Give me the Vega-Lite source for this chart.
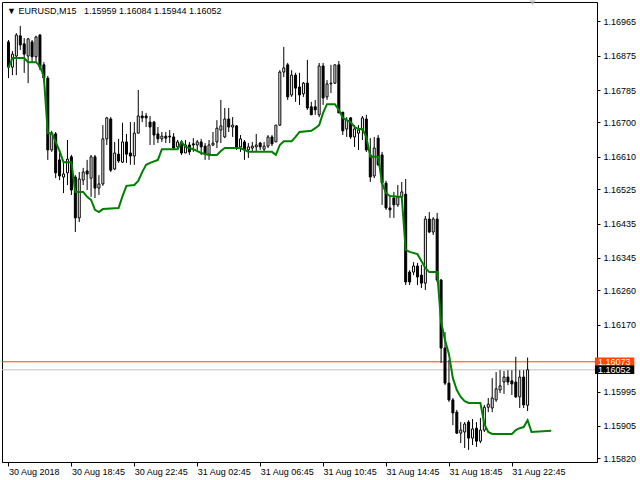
{
  "$schema": "https://vega.github.io/schema/vega-lite/v6.json",
  "width": 595,
  "height": 460,
  "autosize": {"type": "none"},
  "padding": {"left": 2, "top": 2, "right": 43, "bottom": 18},
  "background": "white",
  "title": {
    "text": "▼ EURUSD,M15\u00a0\u00a0 1.15959 1.16084 1.15944 1.16052",
    "anchor": "start",
    "frame": "group",
    "orient": "top",
    "offset": -9,
    "baseline": "middle",
    "dx": 5,
    "dy": 11,
    "fontSize": 9,
    "font": "Liberation Sans",
    "fontWeight": "normal",
    "color": "black"
  },
  "config": {
    "view": {"stroke": "black", "strokeWidth": 1},
    "font": "Liberation Sans",
    "axis": {
      "labelFont": "Liberation Sans",
      "labelFontSize": 9,
      "labelColor": "black",
      "tickColor": "black",
      "domainColor": "black",
      "grid": false,
      "title": null,
      "labelFlush": false,
      "labelOverlap": false
    }
  },
  "datasets": {
    "levels": [
      {"kind": "ask", "price": 1.16073},
      {"kind": "bid", "price": 1.16052}
    ],
    "candles": [
      {"i":0,"o":1.16911,"h":1.16916,"l":1.16816,"c":1.16845},
      {"i":1,"o":1.16845,"h":1.16887,"l":1.16824,"c":1.16879},
      {"i":2,"o":1.16874,"h":1.16934,"l":1.16824,"c":1.16929},
      {"i":3,"o":1.16927,"h":1.16953,"l":1.16890,"c":1.16903},
      {"i":4,"o":1.16906,"h":1.16921,"l":1.16830,"c":1.16879},
      {"i":5,"o":1.16874,"h":1.16921,"l":1.16803,"c":1.16919},
      {"i":6,"o":1.16911,"h":1.16916,"l":1.16858,"c":1.16872},
      {"i":7,"o":1.16872,"h":1.16927,"l":1.16858,"c":1.16924},
      {"i":8,"o":1.16929,"h":1.16932,"l":1.16837,"c":1.16845},
      {"i":9,"o":1.16851,"h":1.16858,"l":1.16806,"c":1.16816},
      {"i":10,"o":1.16816,"h":1.16822,"l":1.16602,"c":1.16628},
      {"i":11,"o":1.16628,"h":1.16678,"l":1.16623,"c":1.16672},
      {"i":12,"o":1.16670,"h":1.16675,"l":1.16554,"c":1.16568},
      {"i":13,"o":1.16602,"h":1.16623,"l":1.16549,"c":1.16560},
      {"i":14,"o":1.16557,"h":1.16594,"l":1.16515,"c":1.16565},
      {"i":15,"o":1.16568,"h":1.16654,"l":1.16536,"c":1.16604},
      {"i":16,"o":1.16610,"h":1.16615,"l":1.16510,"c":1.16523},
      {"i":17,"o":1.16557,"h":1.16562,"l":1.16413,"c":1.16450},
      {"i":18,"o":1.16450,"h":1.16570,"l":1.16439,"c":1.16552},
      {"i":19,"o":1.16549,"h":1.16581,"l":1.16536,"c":1.16570},
      {"i":20,"o":1.16573,"h":1.16602,"l":1.16523,"c":1.16565},
      {"i":21,"o":1.16554,"h":1.16615,"l":1.16505,"c":1.16610},
      {"i":22,"o":1.16610,"h":1.16615,"l":1.16502,"c":1.16528},
      {"i":23,"o":1.16528,"h":1.16562,"l":1.16510,"c":1.16539},
      {"i":24,"o":1.16539,"h":1.16693,"l":1.16534,"c":1.16657},
      {"i":25,"o":1.16657,"h":1.16714,"l":1.16641,"c":1.16712},
      {"i":26,"o":1.16709,"h":1.16714,"l":1.16570,"c":1.16575},
      {"i":27,"o":1.16578,"h":1.16649,"l":1.16575,"c":1.16620},
      {"i":28,"o":1.16617,"h":1.16657,"l":1.16594,"c":1.16599},
      {"i":29,"o":1.16596,"h":1.16699,"l":1.16594,"c":1.16649},
      {"i":30,"o":1.16649,"h":1.16670,"l":1.16594,"c":1.16617},
      {"i":31,"o":1.16620,"h":1.16701,"l":1.16589,"c":1.16612},
      {"i":32,"o":1.16612,"h":1.16701,"l":1.16589,"c":1.16672},
      {"i":33,"o":1.16672,"h":1.16785,"l":1.16672,"c":1.16717},
      {"i":34,"o":1.16717,"h":1.16730,"l":1.16701,"c":1.16712},
      {"i":35,"o":1.16717,"h":1.16725,"l":1.16688,"c":1.16712},
      {"i":36,"o":1.16701,"h":1.16717,"l":1.16641,"c":1.16688},
      {"i":37,"o":1.16701,"h":1.16704,"l":1.16641,"c":1.16667},
      {"i":38,"o":1.16670,"h":1.16688,"l":1.16646,"c":1.16657},
      {"i":39,"o":1.16657,"h":1.16675,"l":1.16649,"c":1.16664},
      {"i":40,"o":1.16664,"h":1.16675,"l":1.16646,"c":1.16659},
      {"i":41,"o":1.16664,"h":1.16680,"l":1.16646,"c":1.16662},
      {"i":42,"o":1.16662,"h":1.16672,"l":1.16628,"c":1.16633},
      {"i":43,"o":1.16636,"h":1.16654,"l":1.16628,"c":1.16649},
      {"i":44,"o":1.16649,"h":1.16654,"l":1.16615,"c":1.16620},
      {"i":45,"o":1.16620,"h":1.16654,"l":1.16620,"c":1.16641},
      {"i":46,"o":1.16641,"h":1.16649,"l":1.16615,"c":1.16623},
      {"i":47,"o":1.16644,"h":1.16659,"l":1.16623,"c":1.16641},
      {"i":48,"o":1.16641,"h":1.16654,"l":1.16628,"c":1.16649},
      {"i":49,"o":1.16649,"h":1.16657,"l":1.16615,"c":1.16636},
      {"i":50,"o":1.16638,"h":1.16646,"l":1.16602,"c":1.16617},
      {"i":51,"o":1.16617,"h":1.16654,"l":1.16602,"c":1.16641},
      {"i":52,"o":1.16641,"h":1.16675,"l":1.16638,"c":1.16646},
      {"i":53,"o":1.16649,"h":1.16706,"l":1.16633,"c":1.16685},
      {"i":54,"o":1.16680,"h":1.16759,"l":1.16646,"c":1.16691},
      {"i":55,"o":1.16662,"h":1.16738,"l":1.16659,"c":1.16709},
      {"i":56,"o":1.16709,"h":1.16738,"l":1.16675,"c":1.16688},
      {"i":57,"o":1.16688,"h":1.16714,"l":1.16662,"c":1.16693},
      {"i":58,"o":1.16691,"h":1.16693,"l":1.16628,"c":1.16633},
      {"i":59,"o":1.16636,"h":1.16667,"l":1.16623,"c":1.16657},
      {"i":60,"o":1.16649,"h":1.16654,"l":1.16602,"c":1.16628},
      {"i":61,"o":1.16628,"h":1.16646,"l":1.16607,"c":1.16636},
      {"i":62,"o":1.16633,"h":1.16649,"l":1.16623,"c":1.16638},
      {"i":63,"o":1.16636,"h":1.16670,"l":1.16623,"c":1.16641},
      {"i":64,"o":1.16646,"h":1.16649,"l":1.16628,"c":1.16636},
      {"i":65,"o":1.16630,"h":1.16649,"l":1.16623,"c":1.16638},
      {"i":66,"o":1.16638,"h":1.16667,"l":1.16633,"c":1.16662},
      {"i":67,"o":1.16662,"h":1.16667,"l":1.16638,"c":1.16644},
      {"i":68,"o":1.16649,"h":1.16693,"l":1.16649,"c":1.16693},
      {"i":69,"o":1.16693,"h":1.16837,"l":1.16691,"c":1.16832},
      {"i":70,"o":1.16832,"h":1.16898,"l":1.16819,"c":1.16843},
      {"i":71,"o":1.16851,"h":1.16856,"l":1.16759,"c":1.16767},
      {"i":72,"o":1.16772,"h":1.16837,"l":1.16767,"c":1.16824},
      {"i":73,"o":1.16824,"h":1.16830,"l":1.16754,"c":1.16790},
      {"i":74,"o":1.16793,"h":1.16830,"l":1.16746,"c":1.16772},
      {"i":75,"o":1.16775,"h":1.16806,"l":1.16767,"c":1.16803},
      {"i":76,"o":1.16803,"h":1.16864,"l":1.16733,"c":1.16738},
      {"i":77,"o":1.16741,"h":1.16754,"l":1.16720,"c":1.16720},
      {"i":78,"o":1.16741,"h":1.16759,"l":1.16720,"c":1.16733},
      {"i":79,"o":1.16720,"h":1.16856,"l":1.16714,"c":1.16848},
      {"i":80,"o":1.16848,"h":1.16856,"l":1.16746,"c":1.16764},
      {"i":81,"o":1.16767,"h":1.16811,"l":1.16759,"c":1.16801},
      {"i":82,"o":1.16801,"h":1.16851,"l":1.16777,"c":1.16803},
      {"i":83,"o":1.16803,"h":1.16851,"l":1.16801,"c":1.16851},
      {"i":84,"o":1.16851,"h":1.16861,"l":1.16725,"c":1.16725},
      {"i":85,"o":1.16727,"h":1.16727,"l":1.16667,"c":1.16678},
      {"i":86,"o":1.16683,"h":1.16714,"l":1.16662,"c":1.16706},
      {"i":87,"o":1.16712,"h":1.16714,"l":1.16657,"c":1.16662},
      {"i":88,"o":1.16662,"h":1.16693,"l":1.16636,"c":1.16683},
      {"i":89,"o":1.16672,"h":1.16693,"l":1.16628,"c":1.16680},
      {"i":90,"o":1.16680,"h":1.16717,"l":1.16654,"c":1.16712},
      {"i":91,"o":1.16709,"h":1.16720,"l":1.16623,"c":1.16628},
      {"i":92,"o":1.16615,"h":1.16659,"l":1.16544,"c":1.16557},
      {"i":93,"o":1.16560,"h":1.16662,"l":1.16554,"c":1.16633},
      {"i":94,"o":1.16659,"h":1.16667,"l":1.16586,"c":1.16589},
      {"i":95,"o":1.16615,"h":1.16623,"l":1.16484,"c":1.16541},
      {"i":96,"o":1.16541,"h":1.16547,"l":1.16471,"c":1.16476},
      {"i":97,"o":1.16476,"h":1.16510,"l":1.16450,"c":1.16471},
      {"i":98,"o":1.16502,"h":1.16518,"l":1.16450,"c":1.16484},
      {"i":99,"o":1.16484,"h":1.16536,"l":1.16479,"c":1.16505},
      {"i":100,"o":1.16505,"h":1.16544,"l":1.16499,"c":1.16518},
      {"i":101,"o":1.16512,"h":1.16552,"l":1.16274,"c":1.16282},
      {"i":102,"o":1.16308,"h":1.16313,"l":1.16274,"c":1.16282},
      {"i":103,"o":1.16308,"h":1.16334,"l":1.16300,"c":1.16324},
      {"i":104,"o":1.16324,"h":1.16332,"l":1.16274,"c":1.16295},
      {"i":105,"o":1.16300,"h":1.16327,"l":1.16266,"c":1.16279},
      {"i":106,"o":1.16279,"h":1.16455,"l":1.16261,"c":1.16447},
      {"i":107,"o":1.16447,"h":1.16465,"l":1.16410,"c":1.16413},
      {"i":108,"o":1.16413,"h":1.16452,"l":1.16405,"c":1.16447},
      {"i":109,"o":1.16447,"h":1.16463,"l":1.16282,"c":1.16287},
      {"i":110,"o":1.16287,"h":1.16290,"l":1.16070,"c":1.16109},
      {"i":111,"o":1.16109,"h":1.16151,"l":1.16012,"c":1.16017},
      {"i":112,"o":1.16017,"h":1.16078,"l":1.15968,"c":1.15973},
      {"i":113,"o":1.15973,"h":1.15978,"l":1.15907,"c":1.15939},
      {"i":114,"o":1.15941,"h":1.15947,"l":1.15884,"c":1.15886},
      {"i":115,"o":1.15886,"h":1.15915,"l":1.15860,"c":1.15894},
      {"i":116,"o":1.15889,"h":1.15915,"l":1.15847,"c":1.15910},
      {"i":117,"o":1.15915,"h":1.15920,"l":1.15842,"c":1.15873},
      {"i":118,"o":1.15873,"h":1.15923,"l":1.15855,"c":1.15897},
      {"i":119,"o":1.15899,"h":1.15915,"l":1.15850,"c":1.15865},
      {"i":120,"o":1.15865,"h":1.15926,"l":1.15860,"c":1.15894},
      {"i":121,"o":1.15894,"h":1.15960,"l":1.15889,"c":1.15954},
      {"i":122,"o":1.15954,"h":1.15978,"l":1.15941,"c":1.15962},
      {"i":123,"o":1.15952,"h":1.16030,"l":1.15941,"c":1.15978},
      {"i":124,"o":1.15973,"h":1.16046,"l":1.15968,"c":1.16002},
      {"i":125,"o":1.15999,"h":1.16051,"l":1.15991,"c":1.16010},
      {"i":126,"o":1.16020,"h":1.16049,"l":1.15989,"c":1.16033},
      {"i":127,"o":1.16033,"h":1.16051,"l":1.16012,"c":1.16020},
      {"i":128,"o":1.16023,"h":1.16051,"l":1.15986,"c":1.16015},
      {"i":129,"o":1.16020,"h":1.16086,"l":1.15978,"c":1.15981},
      {"i":130,"o":1.15981,"h":1.16051,"l":1.15952,"c":1.16033},
      {"i":131,"o":1.16033,"h":1.16051,"l":1.15952,"c":1.15960},
      {"i":132,"o":1.15959,"h":1.16084,"l":1.15944,"c":1.16052}
    ],
    "ma": [
      {"i":0,"v":1.16843},{"i":1,"v":1.16869},{"i":4,"v":1.16869},{"i":5,"v":1.16858},
      {"i":7,"v":1.16858},{"i":8,"v":1.16848},{"i":9,"v":1.16819},{"i":10,"v":1.16672},
      {"i":11,"v":1.16672},{"i":12,"v":1.16649},{"i":13,"v":1.16625},{"i":14,"v":1.16596},
      {"i":16,"v":1.16596},{"i":17,"v":1.16518},{"i":19,"v":1.16518},{"i":20,"v":1.16505},
      {"i":21,"v":1.16497},{"i":22,"v":1.16471},{"i":23,"v":1.16465},{"i":24,"v":1.16473},
      {"i":28,"v":1.16476},{"i":29,"v":1.16507},{"i":30,"v":1.16534},{"i":32,"v":1.16536},
      {"i":33,"v":1.16547},{"i":34,"v":1.16570},{"i":35,"v":1.16589},{"i":36,"v":1.16594},
      {"i":38,"v":1.16602},{"i":39,"v":1.16630},{"i":43,"v":1.16630},{"i":44,"v":1.16649},
      {"i":45,"v":1.16636},{"i":47,"v":1.16630},{"i":49,"v":1.16620},{"i":51,"v":1.16615},
      {"i":53,"v":1.16615},{"i":54,"v":1.16625},{"i":55,"v":1.16633},{"i":59,"v":1.16633},
      {"i":60,"v":1.16628},{"i":61,"v":1.16623},{"i":67,"v":1.16623},{"i":68,"v":1.16615},
      {"i":69,"v":1.16641},{"i":70,"v":1.16651},{"i":72,"v":1.16651},{"i":73,"v":1.16662},
      {"i":74,"v":1.16675},{"i":77,"v":1.16678},{"i":78,"v":1.16685},{"i":79,"v":1.16693},
      {"i":80,"v":1.16725},{"i":81,"v":1.16748},{"i":83,"v":1.16748},{"i":84,"v":1.16733},
      {"i":85,"v":1.16712},{"i":86,"v":1.16706},{"i":87,"v":1.16701},{"i":88,"v":1.16688},
      {"i":89,"v":1.16683},{"i":90,"v":1.16683},{"i":91,"v":1.16662},{"i":92,"v":1.16610},
      {"i":94,"v":1.16610},{"i":95,"v":1.16541},{"i":96,"v":1.16515},{"i":97,"v":1.16507},
      {"i":100,"v":1.16505},{"i":101,"v":1.16366},{"i":102,"v":1.16361},{"i":104,"v":1.16355},
      {"i":105,"v":1.16337},{"i":106,"v":1.16319},{"i":107,"v":1.16308},{"i":109,"v":1.16308},
      {"i":110,"v":1.16177},{"i":111,"v":1.16130},{"i":112,"v":1.16093},{"i":113,"v":1.16030},
      {"i":114,"v":1.15999},{"i":115,"v":1.15981},{"i":116,"v":1.15970},{"i":117,"v":1.15965},
      {"i":120,"v":1.15965},{"i":121,"v":1.15910},{"i":122,"v":1.15889},{"i":123,"v":1.15884},
      {"i":128,"v":1.15884},{"i":129,"v":1.15894},{"i":130,"v":1.15899},{"i":131,"v":1.15902},
      {"i":132,"v":1.15920},{"i":133,"v":1.15889},{"i":138,"v":1.15892}
    ]
  },
  "layer": [
    {
      "data": {"name": "levels"},
      "mark": {"type": "rule", "strokeWidth": 1},
      "encoding": {
        "y": {"field": "price", "type": "quantitative", "scale": {"domain": [1.158104, 1.170156], "nice": false, "zero": false}},
        "stroke": {"condition": {"test": "datum.kind == 'ask'", "value": "#ff4500"}, "value": "#c0c0c0"}
      }
    },
    {
      "data": {"name": "candles"},
      "mark": {"type": "rule", "color": "black", "strokeWidth": 1},
      "encoding": {
        "x": {"field": "i", "type": "quantitative", "scale": {"domain": [-0.375, 148.375], "nice": false, "zero": false},
          "axis": {
            "orient": "bottom",
            "values": [0, 16, 32, 48, 64, 80, 96, 112, 128],
            "tickCount": 30,
            "labelExpr": "['30 Aug 2018','30 Aug 18:45','30 Aug 22:45','31 Aug 02:45','31 Aug 06:45','31 Aug 10:45','31 Aug 14:45','31 Aug 18:45','31 Aug 22:45'][round(datum.value/16)]",
            "labelAlign": "left",
            "labelBaseline": "top",
            "labelPadding": 1,
            "labelDx": -1,
            "labelOverlap": false,
            "tickSize": 4
          }
        },
        "y": {"field": "l", "type": "quantitative", "scale": {"domain": [1.158104, 1.170156], "nice": false, "zero": false},
          "axis": {
            "orient": "right",
            "values": [1.1582, 1.15905, 1.15995, 1.1617, 1.1626, 1.16345, 1.16435, 1.16525, 1.1661, 1.167, 1.16785, 1.16875, 1.16965],
            "tickCount": 30,
            "format": ".5f",
            "labelAlign": "left",
            "labelBaseline": "middle",
            "labelOverlap": false,
            "labelSeparation": 0,
            "tickSize": 3,
            "labelPadding": 3
          }
        },
        "y2": {"field": "h"}
      }
    },
    {
      "data": {"name": "candles"},
      "mark": {"type": "bar", "width": 2, "stroke": "black", "strokeWidth": 1},
      "encoding": {
        "x": {"field": "i", "type": "quantitative", "scale": {"domain": [-0.375, 148.375], "nice": false, "zero": false}},
        "y": {"field": "o", "type": "quantitative", "scale": {"domain": [1.158104, 1.170156], "nice": false, "zero": false}},
        "y2": {"field": "c"},
        "fill": {"condition": {"test": "datum.c >= datum.o", "value": "white"}, "value": "black"}
      }
    },
    {
      "data": {"name": "ma"},
      "mark": {"type": "line", "stroke": "#008000", "strokeWidth": 2},
      "encoding": {
        "x": {"field": "i", "type": "quantitative", "scale": {"domain": [-0.375, 148.375], "nice": false, "zero": false}},
        "y": {"field": "v", "type": "quantitative", "scale": {"domain": [1.158104, 1.170156], "nice": false, "zero": false}}
      }
    },
    {
      "data": {"name": "levels"},
      "mark": {"type": "rule", "strokeWidth": 8.5, "strokeCap": "butt"},
      "encoding": {
        "x": {"datum": 149.125, "type": "quantitative", "scale": {"domain": [-0.375, 148.375], "nice": false, "zero": false}},
        "x2": {"datum": 159.125},
        "y": {"field": "price", "type": "quantitative", "scale": {"domain": [1.158104, 1.170156], "nice": false, "zero": false}},
        "stroke": {"condition": {"test": "datum.kind == 'ask'", "value": "#ff4500"}, "value": "black"}
      }
    },
    {
      "data": {"name": "levels"},
      "mark": {"type": "text", "align": "left", "baseline": "middle", "fontSize": 9, "font": "Liberation Sans", "fill": "white"},
      "encoding": {
        "x": {"datum": 149.875, "type": "quantitative", "scale": {"domain": [-0.375, 148.375], "nice": false, "zero": false}},
        "y": {"field": "price", "type": "quantitative", "scale": {"domain": [1.158104, 1.170156], "nice": false, "zero": false}},
        "text": {"field": "price", "type": "quantitative", "format": ".5f"}
      }
    },
    {
      "data": {"values": [{"mark": "shift"}]},
      "mark": {"type": "point", "shape": "triangle-down", "filled": true, "size": 40, "color": "#b8b8b8"},
      "encoding": {
        "x": {"datum": 133.25, "type": "quantitative", "scale": {"domain": [-0.375, 148.375], "nice": false, "zero": false}},
        "y": {"datum": 1.17013, "type": "quantitative", "scale": {"domain": [1.158104, 1.170156], "nice": false, "zero": false}}
      }
    }
  ]
}
